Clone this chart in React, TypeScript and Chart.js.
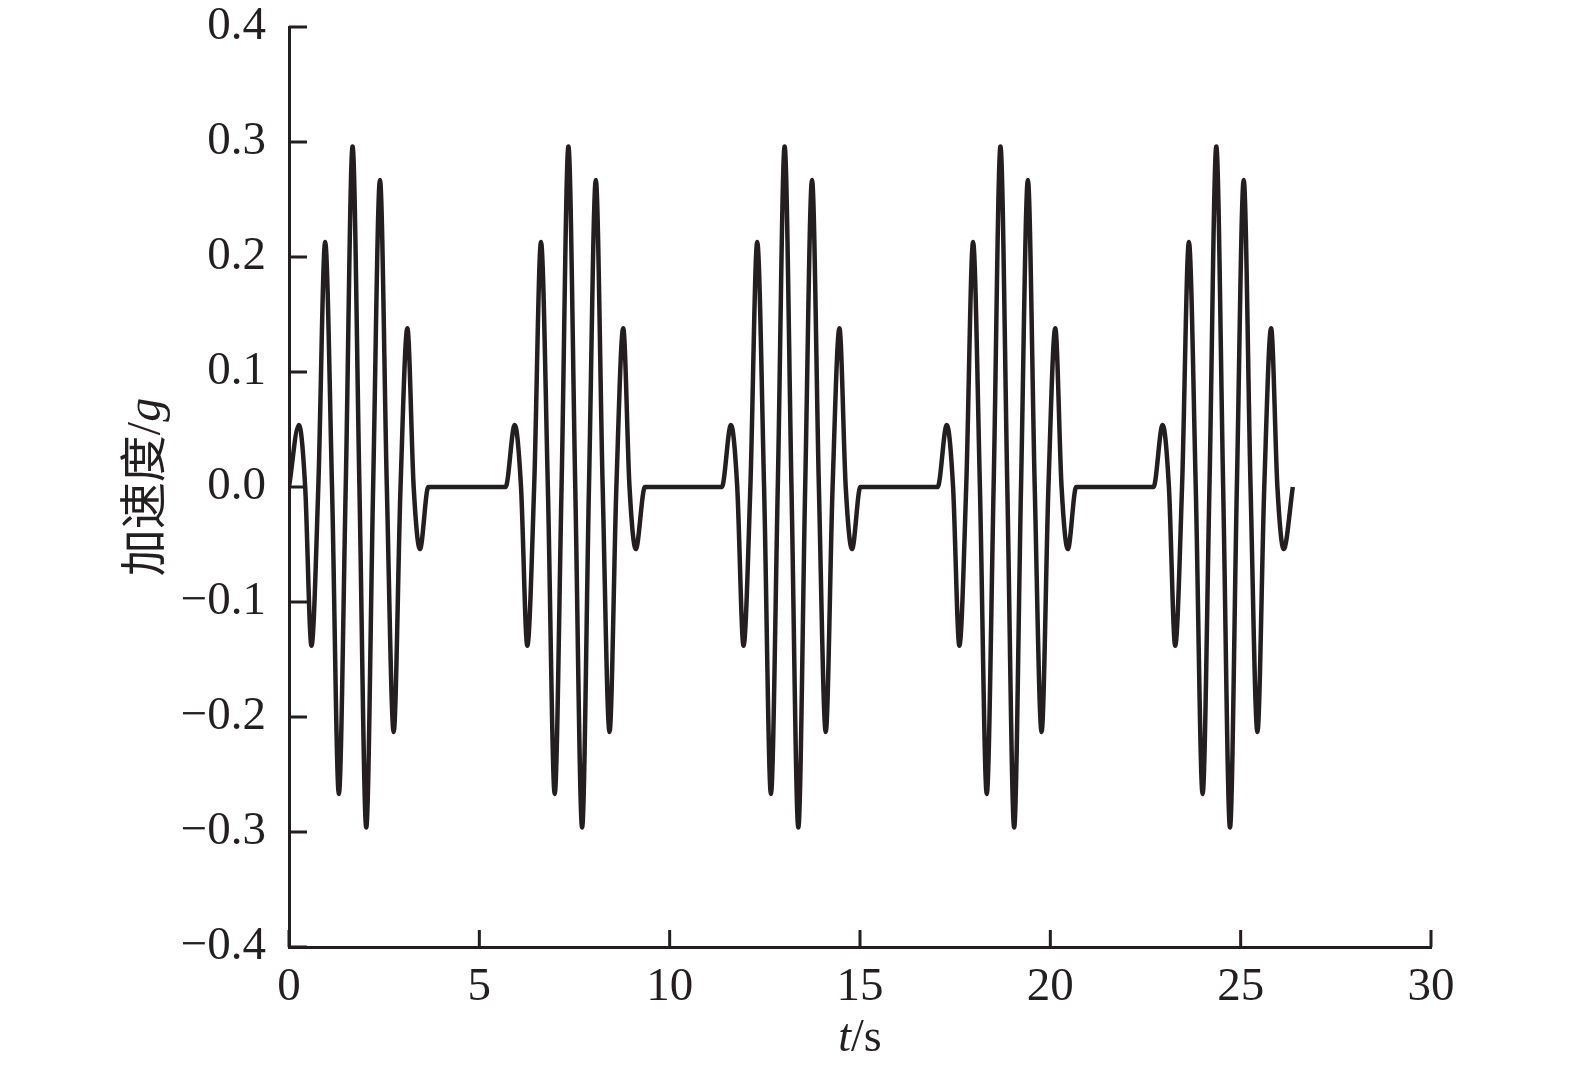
import React, { useEffect, useRef } from "react";
import { Chart, registerables } from "chart.js";

Chart.register(...registerables);

// ---- Data ----
const X_TICKS = [0, 5, 10, 15, 20, 25, 30];
const Y_TICKS = [-0.4, -0.3, -0.2, -0.1, 0, 0.1, 0.2, 0.3, 0.4];

const BURST1_T = [0.0, 0.26, 0.425, 0.59, 0.77, 0.95, 1.13, 1.31, 1.49, 1.67, 1.85, 2.03, 2.21, 2.39, 2.57, 2.75, 2.93, 3.11, 3.275, 3.44, 3.66];
const BURST1_A = [0, 0.054, 0, -0.138, 0, 0.213, 0, -0.267, 0, 0.296, 0, -0.296, 0, 0.267, 0, -0.213, 0, 0.138, 0, -0.054, 0];

const BURST2_T = [5.69, 5.93, 6.095, 6.26, 6.44, 6.62, 6.8, 6.98, 7.16, 7.34, 7.52, 7.7, 7.88, 8.06, 8.24, 8.42, 8.6, 8.78, 8.945, 9.11, 9.35];
const BURST2_A = [0, 0.054, 0, -0.138, 0, 0.213, 0, -0.267, 0, 0.296, 0, -0.296, 0, 0.267, 0, -0.213, 0, 0.138, 0, -0.054, 0];

const BURST3_T = [11.37, 11.61, 11.775, 11.94, 12.12, 12.3, 12.48, 12.66, 12.84, 13.02, 13.2, 13.38, 13.56, 13.74, 13.92, 14.1, 14.28, 14.46, 14.625, 14.79, 15.01];
const BURST3_A = [0, 0.054, 0, -0.138, 0, 0.213, 0, -0.267, 0, 0.296, 0, -0.296, 0, 0.267, 0, -0.213, 0, 0.138, 0, -0.054, 0];

const BURST4_T = [17.04, 17.28, 17.445, 17.61, 17.79, 17.97, 18.15, 18.33, 18.51, 18.69, 18.87, 19.05, 19.23, 19.41, 19.59, 19.77, 19.95, 20.13, 20.295, 20.46, 20.68];
const BURST4_A = [0, 0.054, 0, -0.138, 0, 0.213, 0, -0.267, 0, 0.296, 0, -0.296, 0, 0.267, 0, -0.213, 0, 0.138, 0, -0.054, 0];

const BURST5_T = [22.71, 22.95, 23.115, 23.28, 23.46, 23.64, 23.82, 24.0, 24.18, 24.36, 24.54, 24.72, 24.9, 25.08, 25.26, 25.44, 25.62, 25.8, 25.965, 26.13, 26.37];
const BURST5_A = [0, 0.054, 0, -0.138, 0, 0.213, 0, -0.267, 0, 0.296, 0, -0.296, 0, 0.267, 0, -0.213, 0, 0.138, 0, -0.054, 0];

const BURSTS_T = [BURST1_T, BURST2_T, BURST3_T, BURST4_T, BURST5_T];
const BURSTS_A = [BURST1_A, BURST2_A, BURST3_A, BURST4_A, BURST5_A];

const X_TITLE_ITALIC = "t";
const X_TITLE_REST = "/s";
const Y_TITLE_CJK = "加速度";
const Y_TITLE_SLASH = "/";
const Y_TITLE_ITALIC = "g";

const INK = "#231f20";
const SERIF = '"Liberation Serif", "Times New Roman", serif';
const CJK = '"Noto Sans CJK SC", sans-serif';

export default function App() {
  const ref = useRef<HTMLCanvasElement | null>(null);

  useEffect(() => {
    const canvas = ref.current;
    if (!canvas) return;

    const points: { x: number; y: number }[] = [];
    BURSTS_T.forEach((ts, b) => {
      ts.forEach((t, i) => points.push({ x: t, y: BURSTS_A[b][i] }));
    });

    const decor = {
      id: "decor",
      afterDraw(chart: any) {
        const ctx = chart.ctx;
        const xs = chart.scales.x;
        const ys = chart.scales.y;
        const area = chart.chartArea;
        ctx.save();
        ctx.strokeStyle = INK;
        ctx.lineWidth = 3;
        ctx.beginPath();
        Y_TICKS.forEach((v) => {
          const py = ys.getPixelForValue(v);
          ctx.moveTo(area.left, py);
          ctx.lineTo(area.left + 18, py);
        });
        X_TICKS.forEach((v) => {
          const px = xs.getPixelForValue(v);
          ctx.moveTo(px, area.bottom);
          ctx.lineTo(px, area.bottom - 17);
        });
        ctx.stroke();

        // x title
        ctx.fillStyle = INK;
        ctx.textBaseline = "alphabetic";
        ctx.textAlign = "left";
        const fx = 46;
        ctx.font = `italic ${fx}px ${SERIF}`;
        const w1 = ctx.measureText(X_TITLE_ITALIC).width;
        ctx.font = `${fx}px ${SERIF}`;
        const w2 = ctx.measureText(X_TITLE_REST).width;
        const cx = (area.left + area.right) / 2;
        const sx = cx - (w1 + w2) / 2;
        ctx.font = `italic ${fx}px ${SERIF}`;
        ctx.fillText(X_TITLE_ITALIC, sx, 1051);
        ctx.font = `${fx}px ${SERIF}`;
        ctx.fillText(X_TITLE_REST, sx + w1, 1051);

        // y title (rotated)
        const fc = 47;
        const fs = 48;
        ctx.font = `${fc}px ${CJK}`;
        const c1 = ctx.measureText(Y_TITLE_CJK).width;
        ctx.font = `${fs}px ${SERIF}`;
        const c2 = ctx.measureText(Y_TITLE_SLASH).width;
        ctx.font = `italic ${fs}px ${SERIF}`;
        const c3 = ctx.measureText(Y_TITLE_ITALIC).width;
        const total = c1 + c2 + c3;
        const cy = (area.top + area.bottom) / 2;
        ctx.translate(160, cy);
        ctx.rotate(-Math.PI / 2);
        let tx = -total / 2;
        ctx.font = `${fc}px ${CJK}`;
        ctx.fillText(Y_TITLE_CJK, tx, 0);
        tx += c1;
        ctx.font = `${fs}px ${SERIF}`;
        ctx.fillText(Y_TITLE_SLASH, tx, 0);
        tx += c2;
        ctx.font = `italic ${fs}px ${SERIF}`;
        ctx.fillText(Y_TITLE_ITALIC, tx, 0);
        ctx.restore();
      },
    };

    const chart = new Chart(canvas, {
      type: "line",
      data: {
        datasets: [
          {
            data: points,
            borderColor: INK,
            borderWidth: 4.5,
            pointRadius: 0,
            cubicInterpolationMode: "monotone",
            fill: false,
          },
        ],
      },
      options: {
        animation: false,
        responsive: false,
        devicePixelRatio: 1,
        layout: { padding: { left: 0, top: 27, right: 144, bottom: 0 } },
        plugins: { legend: { display: false }, tooltip: { enabled: false } },
        scales: {
          x: {
            type: "linear",
            min: 0,
            max: 30,
            afterFit: (s: any) => {
              s.height = 123;
              s.paddingLeft = 0;
              s.paddingRight = 0;
            },
            afterBuildTicks: (s: any) => {
              s.ticks = X_TICKS.map((v) => ({ value: v }));
            },
            grid: { display: false, drawTicks: false },
            border: { display: true, color: INK, width: 3 },
            ticks: {
              color: INK,
              padding: 12,
              font: { family: SERIF, size: 47 },
              callback: (v: any) => String(v),
            },
          },
          y: {
            type: "linear",
            min: -0.4,
            max: 0.4,
            afterFit: (s: any) => {
              s.width = 289;
              s.paddingTop = 0;
              s.paddingBottom = 0;
            },
            afterBuildTicks: (s: any) => {
              s.ticks = Y_TICKS.map((v) => ({ value: v }));
            },
            grid: { display: false, drawTicks: false },
            border: { display: true, color: INK, width: 3 },
            ticks: {
              color: INK,
              padding: 23,
              font: { family: SERIF, size: 47 },
              callback: (v: any) => {
                const n = Number(v);
                if (Math.abs(n) < 1e-9) return "0.0";
                return n.toFixed(1).replace("-", "\u2212");
              },
            },
          },
        },
      },
      plugins: [decor],
    });

    return () => {
      chart.destroy();
    };
  }, []);

  return (
    <div style={{ position: "absolute", left: 0, top: 0, width: 1575, height: 1070, background: "#fff" }}>
      <canvas ref={ref} width={1575} height={1070} style={{ display: "block", width: 1575, height: 1070 }} />
    </div>
  );
}
